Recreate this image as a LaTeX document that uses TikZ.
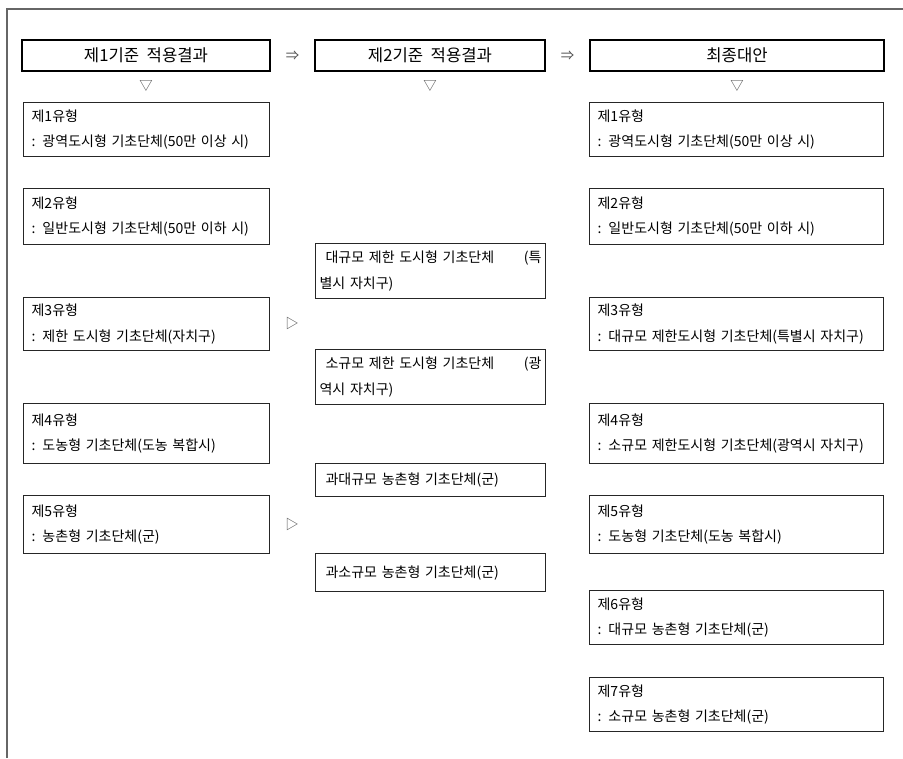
\documentclass[tikz,border=0pt]{standalone}
\usepackage{fontspec}
\setmainfont{Noto Sans CJK KR}
\usetikzlibrary{positioning}
\usepackage{xcolor}
\newcommand{\headfont}{\fontsize{12.5pt}{15pt}\selectfont\spaceskip 0.45em\relax}
\newcommand{\boxfont}{\fontsize{10.5pt}{19pt}\selectfont\spaceskip 0.38em\relax}
\tikzset{
    frame/.style = {draw=black!60, line width=1.1pt},
    headbox/.style = {rectangle, draw=black, line width=1.5pt, minimum height=23.25pt, align=center, font=\headfont},
    typebox/.style = {rectangle, anchor=north west, draw=black!85, line width=0.9pt, align=left, inner xsep=6pt, font=\boxfont},
    midbox/.style = {typebox, inner xsep=3pt, text width=166.5pt},
    sym/.style = {inner sep=0pt, text=black!70, font=\fontsize{10pt}{12pt}\selectfont}
}

\begin{document}
\begin{tikzpicture}[x=0.75pt, y=-0.75pt]
\useasboundingbox (0,0) rectangle (903,758);

% ---- Frame ----
\draw[frame] (7,758) -- (7,9) -- (903,9);

% ---- Headers ----
\node[headbox, minimum width=186pt] (head1) at (146,55.5) {제1기준 적용결과};
\node[headbox, minimum width=172.5pt] (head2) at (430,55.5) {제2기준 적용결과};
\node[headbox, minimum width=220.5pt] (head3) at (737,55.5) {최종대안};
\node[sym] (then1) at (292.5,56) {⇒};
\node[sym] (then2) at (567.5,56) {⇒};
\node[sym] (down1) at (146,86) {▽};
\node[sym] (down2) at (430,86) {▽};
\node[sym] (down3) at (737,86) {▽};

% ---- 1st criterion (left) ----
\node[typebox, text width=172.5pt, minimum height=40.5pt] (left1) at (23,102) {제1유형\\: 광역도시형 기초단체(50만 이상 시)};
\node[typebox, text width=172.5pt, minimum height=42pt] (left2) at (23,188) {제2유형\\: 일반도시형 기초단체(50만 이하 시)};
\node[typebox, text width=172.5pt, minimum height=39.75pt] (left3) at (23,297) {제3유형\\: 제한 도시형 기초단체(자치구)};
\node[typebox, text width=172.5pt, minimum height=45pt] (left4) at (23,403) {제4유형\\: 도농형 기초단체(도농 복합시)};
\node[typebox, text width=172.5pt, minimum height=43.5pt] (left5) at (23,495) {제5유형\\: 농촌형 기초단체(군)};
\node[sym] (split3) at (292,323.5) {▷};
\node[sym] (split5) at (292,524) {▷};

% ---- 2nd criterion (middle) ----
\node[midbox, minimum height=41.25pt] (mid1) at (315,243) {\hspace*{4.5pt}대규모 제한 도시형 기초단체\hfill(특\\별시 자치구)};
\node[midbox, minimum height=41.25pt] (mid2) at (315,349) {\hspace*{4.5pt}소규모 제한 도시형 기초단체\hfill(광\\역시 자치구)};
\node[midbox, minimum height=24.75pt] (mid3) at (315,463) {\hspace*{4.5pt}과대규모 농촌형 기초단체(군)};
\node[midbox, minimum height=28.5pt] (mid4) at (315,553) {\hspace*{4.5pt}과소규모 농촌형 기초단체(군)};

% ---- Final (right) ----
\node[typebox, text width=208.5pt, minimum height=40.5pt] (final1) at (589,102) {제1유형\\: 광역도시형 기초단체(50만 이상 시)};
\node[typebox, text width=208.5pt, minimum height=42pt] (final2) at (589,188) {제2유형\\: 일반도시형 기초단체(50만 이하 시)};
\node[typebox, text width=208.5pt, minimum height=39.75pt] (final3) at (589,297) {제3유형\\: 대규모 제한도시형 기초단체(특별시 자치구)};
\node[typebox, text width=208.5pt, minimum height=45pt] (final4) at (589,403) {제4유형\\: 소규모 제한도시형 기초단체(광역시 자치구)};
\node[typebox, text width=208.5pt, minimum height=43.5pt] (final5) at (589,495) {제5유형\\: 도농형 기초단체(도농 복합시)};
\node[typebox, text width=208.5pt, minimum height=40.5pt] (final6) at (589,590) {제6유형\\: 대규모 농촌형 기초단체(군)};
\node[typebox, text width=208.5pt, minimum height=40.5pt] (final7) at (589,677) {제7유형\\: 소규모 농촌형 기초단체(군)};

\end{tikzpicture}
\end{document}
